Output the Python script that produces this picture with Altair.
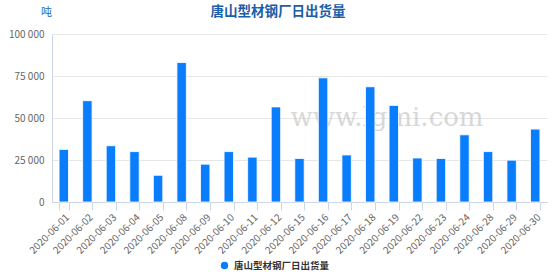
import altair as alt
import pandas as pd

dates = ["2020-06-01", "2020-06-02", "2020-06-03", "2020-06-04", "2020-06-05",
         "2020-06-08", "2020-06-09", "2020-06-10", "2020-06-11", "2020-06-12",
         "2020-06-15", "2020-06-16", "2020-06-17", "2020-06-18", "2020-06-19",
         "2020-06-22", "2020-06-23", "2020-06-24", "2020-06-28", "2020-06-29",
         "2020-06-30"]
values = [31300, 60300, 33500, 30000, 15900,
          83000, 22500, 30000, 26700, 56600,
          25900, 73900, 28000, 68600, 57500,
          26200, 25900, 40000, 30000, 24900,
          43400]
series_name = "唐山型材钢厂日出货量"
y_ticks = [0, 25000, 50000, 75000, 100000]

df = pd.DataFrame({"date": dates, "value": values, "series": [series_name] * len(dates)})

FONT = "Noto Sans CJK SC"

bars = alt.Chart(df).mark_bar(stroke="white", strokeWidth=0.8).encode(
    x=alt.X("date:N", sort=None,
            scale=alt.Scale(paddingInner=0.6, paddingOuter=0.3),
            axis=alt.Axis(title=None, labelAngle=-45, labelFontSize=10, labelColor="#666666",
                          labelFont=FONT, domainColor="#ccd6eb", tickColor="#ccd6eb",
                          tickBand="extent", tickSize=8, labelPadding=2, grid=False)),
    y=alt.Y("value:Q", scale=alt.Scale(domain=[0, 100000], nice=False),
            axis=alt.Axis(values=y_ticks, title="吨", titleAngle=0, titleX=-6, titleY=-17,
                          titleAlign="center", titleFontSize=11, titleColor="#2b6cb0",
                          titleFont=FONT, titleFontWeight="normal",
                          labelExpr="replace(format(datum.value, ','), ',', ' ')",
                          labelFontSize=10, labelColor="#666666", labelFont=FONT,
                          domainColor="#ccd6eb", ticks=False, labelPadding=8,
                          gridColor="#e6e6e6")),
    color=alt.Color("series:N", scale=alt.Scale(range=["#0a7dfd"]),
                    legend=alt.Legend(title=None, orient="none", legendX=167, legendY=226,
                                      symbolType="circle", symbolSize=80,
                                      labelFont=FONT, labelFontSize=9.5, labelFontWeight="bold",
                                      labelColor="#333333")),
)

watermark = alt.Chart(pd.DataFrame({"t": ["www.lgmi.com"]})).mark_text(
    font="DejaVu Serif", fontSize=26, color="#c8c8c8", opacity=0.7
).encode(x=alt.value(335), y=alt.value(84), text="t:N")

title = alt.Chart(pd.DataFrame({"t": [series_name]})).mark_text(
    font=FONT, fontSize=13.5, fontWeight="bold", color="#1a5ea8", align="center", baseline="middle"
).encode(x=alt.value(226), y=alt.value(-22), text="t:N")

chart = alt.layer(watermark, bars, title).properties(
    width=495, height=168,
    autosize=alt.AutoSizeParams(type="none"),
    padding={"left": 52, "top": 34, "right": 6, "bottom": 73},
).configure_view(stroke=None)

chart.save("out.html", embed_options={"renderer": "svg", "actions": False})
